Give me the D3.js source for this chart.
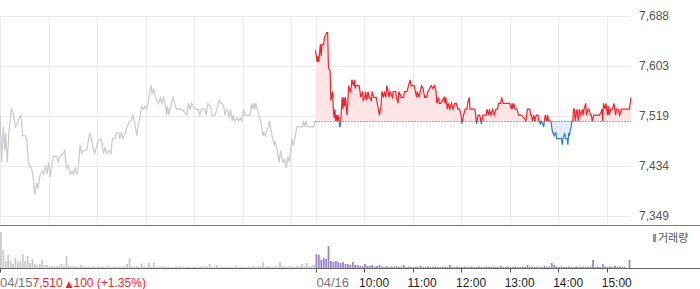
<!DOCTYPE html>
<html>
<head>
<meta charset="utf-8">
<script src="https://cdn.jsdelivr.net/npm/d3@7"></script>
<style>
  html, body { margin: 0; padding: 0; background: #fff; }
  svg { display: block; }
  text { font-family: "Liberation Sans", Arial, sans-serif; }
</style>
</head>
<body>
<script>
// ---------- data ----------
const prevClose = 7510;
const priceTicks = [7349, 7434, 7519, 7603, 7688];
const dateLabels = ["04/15", "04/16"];
const hourTickMinutes = [60, 120, 180, 240, 300, 360];
const hourTickLabels = ["10:00", "11:00", "12:00", "13:00", "14:00", "15:00"];
const infoPrice = "7,510";
const infoChange = "100 (+1.35%)";
const legendLabel = "거래량";

// minutes after 09:00
const day1Minutes = [0,2,4,6,7,9,11,14,16,19,21,24,26,28,31,33,35,37,39,41,43,45,47,49,52,54,56,58,60,62,64,66,70,72,74,78,80,82,84,87,89,91,93,95,97,99,101,103,107,109,111,113,115,117,120,121,124,126,128,130,132,135,137,139,142,144,147,148,150,152,155,157,159,160,162,164,166,169,171,173,175,177,179,181,183,185,187,188,190,192,194,196,198,200,202,204,206,207,209,210,212,214,216,218,225,231,233,235,237,239,241,245,247,249,253,255,257,260,262,266,268,270,271,273,275,277,278,280,282,283,285,287,288,290,293,295,297,299,301,303,309,311,312,314,315,316,318,321,323,325,326,328,330,332,333,335,337,339,340,342,344,345,347,348,350,352,354,355,356,358,359,361,362,363,365,367,374,375,377,378,380,387,389,390];
const day1Prices = [7520,7440,7500,7460,7490,7440,7490,7530,7525,7500,7505,7515,7520,7485,7485,7480,7440,7435,7430,7415,7385,7405,7395,7415,7425,7420,7435,7420,7440,7415,7435,7450,7450,7440,7450,7455,7460,7430,7435,7420,7425,7420,7430,7420,7435,7470,7455,7460,7460,7475,7490,7480,7465,7455,7470,7475,7480,7475,7455,7465,7455,7460,7455,7480,7480,7490,7490,7480,7490,7480,7490,7500,7505,7510,7510,7520,7510,7485,7505,7515,7535,7530,7535,7530,7540,7560,7570,7555,7565,7550,7545,7540,7550,7540,7550,7540,7520,7535,7520,7530,7540,7550,7540,7530,7530,7520,7540,7530,7540,7535,7530,7530,7520,7530,7530,7520,7540,7535,7520,7520,7530,7540,7545,7540,7540,7530,7520,7530,7525,7515,7530,7510,7520,7510,7515,7510,7515,7510,7530,7520,7520,7540,7530,7540,7530,7540,7530,7515,7505,7485,7490,7485,7495,7500,7510,7495,7480,7470,7475,7465,7450,7440,7460,7450,7440,7445,7430,7440,7450,7440,7455,7480,7470,7470,7485,7500,7500,7510,7500,7510,7500,7500,7505,7510];

const day2Minutes = [0,2,3,4,6,7,8,10,11,12,14,15,16,18,19,21,22,23,24,25,26,27,28,29,30,31,32,33,34,35,36,37,39,40,41,43,44,45,47,48,49,50,52,54,56,58,59,61,62,63,65,66,67,69,70,72,75,77,79,81,82,84,85,87,88,89,91,92,95,96,99,100,102,103,106,109,110,113,115,117,118,120,122,125,126,128,131,133,135,137,139,141,143,145,147,149,150,152,153,155,157,159,160,161,163,164,166,168,170,172,174,176,178,180,181,183,185,187,188,190,191,192,194,197,198,199,201,203,205,207,209,211,212,214,215,217,219,221,223,225,226,229,230,232,236,240,242,243,244,245,247,249,251,254,258,260,261,262,265,266,267,268,270,271,273,275,276,278,279,281,282,283,284,286,287,288,290,291,293,294,295,297,298,300,302,304,305,306,308,309,311,312,313,314,315,316,317,318,319,320,321,323,324,325,326,328,330,331,332,334,335,337,338,340,341,342,344,347,349,351,353,354,355,356,358,359,361,362,363,365,367,369,371,372,374,376,378,382,386,388,390];
const day2Prices = [7630,7610,7620,7610,7640,7620,7640,7640,7650,7655,7660,7660,7600,7595,7545,7560,7530,7515,7530,7510,7520,7510,7520,7510,7500,7505,7530,7550,7530,7550,7535,7550,7520,7545,7570,7560,7565,7580,7570,7580,7565,7570,7570,7570,7550,7560,7545,7550,7560,7545,7560,7550,7550,7545,7560,7550,7550,7535,7520,7535,7560,7550,7560,7550,7570,7565,7550,7560,7550,7560,7560,7550,7540,7560,7550,7550,7560,7560,7570,7580,7570,7570,7570,7550,7560,7550,7570,7565,7550,7550,7560,7565,7570,7565,7570,7560,7540,7550,7540,7540,7545,7550,7540,7550,7530,7540,7530,7540,7530,7540,7540,7530,7530,7520,7505,7520,7530,7530,7540,7550,7530,7530,7530,7530,7520,7505,7520,7520,7505,7520,7520,7520,7530,7520,7530,7520,7530,7520,7530,7530,7540,7540,7550,7540,7540,7540,7530,7540,7530,7540,7530,7530,7520,7520,7515,7510,7520,7530,7530,7520,7520,7510,7520,7510,7520,7520,7510,7505,7510,7505,7500,7510,7520,7510,7520,7510,7510,7510,7490,7490,7485,7490,7480,7480,7480,7480,7470,7480,7490,7480,7480,7470,7490,7485,7495,7500,7510,7510,7530,7530,7510,7530,7520,7510,7530,7520,7530,7520,7530,7540,7520,7530,7530,7520,7520,7510,7520,7520,7520,7520,7525,7530,7510,7540,7530,7540,7520,7535,7520,7530,7530,7540,7520,7530,7530,7520,7530,7530,7530,7530,7550];

// volume per 3-minute bucket (thousand shares)
const day1Volumes = [36,18,7,13,7,4,10,6,7,14,7,12,5,9,4,3,4,8,3,3,2,2,1.5,2,2,4,2,12,2,1.5,2,1.5,1,3,1.5,1,1.5,1,2,1,1.5,1,1.5,1,2,1,1,1.5,1,1.5,1,2,4,10,1.5,1,2,1,4.5,1.5,1,5,1.5,5.5,1,1.5,1,2,1,1.5,1,1,1.5,1,2,1,1,1.5,1,1,1.5,1,1,2,1,1.5,4,1,1.5,3,1,1.5,1,1,1.5,1,1,2,1,1.5,1,1,1.5,1,2,1,1.5,2,6,1.5,2,1.5,1,2,1.5,6,2,1.5,1,2,1.5,1,2,1.5,4,2,5,1.5,2,3];
const day2Volumes = [14,13,8,10,9,22,7,6,7,6,5,6,4,4,3,6,3,3,2,2,4,2,2,3,1.5,2,3,1.5,1,2,1,1.5,1,2,1,1.5,3,1,1.5,1,1,1.5,1,2,1,1,1.5,1,1,1.5,1,1,1.5,1,1,3,1,1,1.5,1,1,1.5,1,1,1.5,1,1,1.5,1,1,1.5,1,1,1.5,1,1,2,1,1,1.5,1,1,1.5,1,1,1.5,1,3,1,1.5,1,1.5,1,1,2,1,1.5,5,3,1.5,1,1.5,1,1,1.5,1,1,1.5,1,1,1.5,1,1,1.5,8,1,1.5,1,4,1.5,1,1.5,1,2,1,1.5,1,1,0,8];
const volumeBucket = 3;

// ---------- chart ----------
const W = 700, H = 289;
const sessionLen = 390;
const svg = d3.select("body").append("svg").attr("width", W).attr("height", H);

const x = d3.scaleLinear().domain([0, sessionLen * 2]).range([0, 631]);
const y = d3.scaleLinear().domain([7349, 7688]).range([216, 16]);
const yv = d3.scaleLinear().domain([0, 40]).range([268, 228]);

const plotTop = 16, plotBottom = 225, plotRight = 631;
const px = v => Math.round(v) + 0.5;

// grid
const gridG = svg.append("g");
gridG.selectAll("line.h").data(priceTicks).join("line")
  .attr("x1", 0).attr("x2", plotRight)
  .attr("y1", d => px(y(d))).attr("y2", d => px(y(d)))
  .attr("stroke", "#ebebeb").attr("stroke-width", 1);

const gridMinutes = [0].concat(hourTickMinutes, [sessionLen], hourTickMinutes.map(m => m + sessionLen));
gridG.selectAll("line.v").data(gridMinutes).join("line")
  .attr("x1", d => px(x(d))).attr("x2", d => px(x(d)))
  .attr("y1", plotTop).attr("y2", plotBottom)
  .attr("stroke", "#ebebeb").attr("stroke-width", 1);

// right axis labels
svg.append("g").selectAll("text").data(priceTicks).join("text")
  .attr("x", 639).attr("y", d => y(d)).attr("dy", "0.36em")
  .attr("font-size", 12).attr("fill", "#555")
  .text(d => d3.format(",")(d));

// day 1 line
const d1 = day1Minutes.map((m, i) => ({ m: m, p: day1Prices[i] }));
const d2 = day2Minutes.map((m, i) => ({ m: m + sessionLen, p: day2Prices[i] }));

const line = d3.line().x(d => x(d.m)).y(d => y(d.p));
svg.append("path").datum(d1).attr("d", line)
  .attr("fill", "none").attr("stroke", "#c9c9cd").attr("stroke-width", 1.2);

// clips
const yBase = y(prevClose);
const defs = svg.append("defs");
defs.append("clipPath").attr("id", "clipUp").append("rect")
  .attr("x", 0).attr("y", 0).attr("width", W).attr("height", yBase);
defs.append("clipPath").attr("id", "clipDown").append("rect")
  .attr("x", 0).attr("y", yBase).attr("width", W).attr("height", plotBottom - yBase);

const area = d3.area().x(d => x(d.m)).y0(yBase).y1(d => y(d.p));
svg.append("path").datum(d2).attr("d", area).attr("fill", "#fde5e6").attr("clip-path", "url(#clipUp)");
svg.append("path").datum(d2).attr("d", area).attr("fill", "#e5edfa").attr("clip-path", "url(#clipDown)");

// baseline (previous close)
svg.append("line")
  .attr("x1", x(sessionLen)).attr("x2", x(sessionLen * 2))
  .attr("y1", px(yBase)).attr("y2", px(yBase))
  .attr("stroke", "#555").attr("stroke-width", 1).attr("stroke-dasharray", "1,2");

svg.append("path").datum(d2).attr("d", line)
  .attr("fill", "none").attr("stroke", "#f5222d").attr("stroke-width", 1.2)
  .attr("clip-path", "url(#clipUp)");
svg.append("path").datum(d2).attr("d", line)
  .attr("fill", "none").attr("stroke", "#2f7ad8").attr("stroke-width", 1.2)
  .attr("clip-path", "url(#clipDown)");

// separator
svg.append("line").attr("x1", 0).attr("x2", W).attr("y1", 225.5).attr("y2", 225.5)
  .attr("stroke", "#7a7a7a").attr("stroke-width", 1);

// volume bars
const v1 = day1Volumes.map((v, i) => ({ m: i * volumeBucket, v: v, c: "#c9c9cd" }));
const v2 = day2Volumes.map((v, i) => ({ m: sessionLen + i * volumeBucket, v: v, c: "#9b85c9" }));
svg.append("g").selectAll("rect").data(v1.concat(v2)).join("rect")
  .attr("x", d => x(d.m))
  .attr("y", d => yv(d.v))
  .attr("width", 1.8)
  .attr("height", d => yv(0) - yv(d.v))
  .attr("fill", d => d.c);

// legend
svg.append("rect").attr("x", 653).attr("y", 234).attr("width", 3).attr("height", 8).attr("fill", "#9b85c9");
svg.append("text").attr("x", 658).attr("y", 242)
  .attr("font-size", 11).attr("fill", "#555")
  .style("font-family", "'Noto Sans CJK KR', sans-serif")
  .text(legendLabel);

// bottom axis
svg.append("line").attr("x1", 0).attr("x2", W).attr("y1", 268.5).attr("y2", 268.5)
  .attr("stroke", "#666").attr("stroke-width", 1);

const axisMinutes = [0, sessionLen].concat(hourTickMinutes.map(m => m + sessionLen));
const axisG = svg.append("g").attr("transform", "translate(0,268.5)");
axisG.call(d3.axisBottom(x).tickValues(axisMinutes).tickSize(4).tickFormat(""))
  .call(g => g.select(".domain").remove())
  .call(g => g.selectAll(".tick line").attr("stroke", "#555"));
axisG.selectAll(".tick").attr("transform", d => `translate(${px(x(d))},0)`);

// labels
const lblY = 287;
const t1 = svg.append("text").attr("x", 0).attr("y", lblY);
t1.append("tspan").attr("font-size", 13).attr("fill", "#777").text(dateLabels[0]);
t1.append("tspan").attr("font-size", 12).attr("fill", "#f0282d").text(infoPrice);
t1.append("tspan").attr("font-size", 9).attr("dx", 3).attr("fill", "#f0282d")
  .style("font-family", "'DejaVu Sans', sans-serif").text("▲");
t1.append("tspan").attr("font-size", 12).attr("dx", 1).attr("fill", "#f0282d").text(infoChange);

svg.append("text").attr("x", x(sessionLen) + 1).attr("y", lblY)
  .attr("font-size", 13).attr("fill", "#777").text(dateLabels[1]);

svg.append("g").selectAll("text").data(hourTickMinutes).join("text")
  .attr("x", d => x(d + sessionLen) - 5).attr("y", lblY)
  .attr("font-size", 12).attr("fill", "#222")
  .text((d, i) => hourTickLabels[i]);
</script>
</body>
</html>
